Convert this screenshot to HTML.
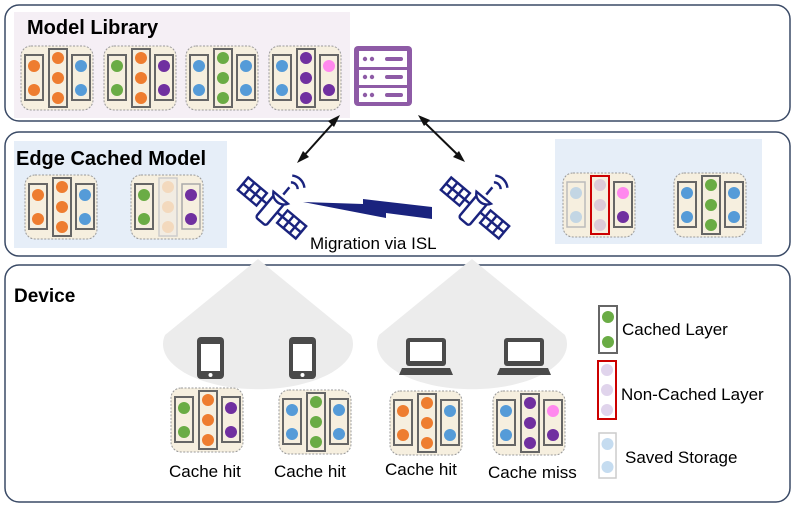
<!DOCTYPE html>
<html><head><meta charset="utf-8"><style>
html,body{margin:0;padding:0;background:#fff}
svg{display:block}
text{font-family:"Liberation Sans",Arial,sans-serif}
</style></head><body>
<svg width="798" height="508" viewBox="0 0 798 508" xmlns="http://www.w3.org/2000/svg">
<defs>
<g id="card"><rect x="0" y="0" width="72" height="64" rx="10" fill="#f6efdf" stroke="#9a9a9a" stroke-width="1" stroke-dasharray="2,1.5"/></g>
<g id="cols" fill="none" stroke="#666" stroke-width="2">
<rect x="4" y="9" width="18" height="45"/><rect x="28" y="3" width="18" height="58"/><rect x="51" y="9" width="18" height="45"/></g>
</defs>

<rect x="5" y="5" width="785" height="116" rx="14" fill="#fff" stroke="#3a4a66" stroke-width="1.5"/>
<rect x="14" y="12" width="336" height="106" fill="#f5eff5"/>
<rect x="5" y="132" width="785" height="124" rx="14" fill="#fff" stroke="#3a4a66" stroke-width="1.5"/>
<rect x="14" y="141" width="213" height="107" fill="#e6eef8"/>
<rect x="555" y="139" width="207" height="105" fill="#e6eef8"/>
<rect x="5" y="265" width="785" height="237" rx="14" fill="#fff" stroke="#3a4a66" stroke-width="1.5"/>

<text x="27" y="34" font-size="20" font-weight="bold">Model Library</text>
<text x="16" y="165" font-size="20" font-weight="bold">Edge Cached Model</text>
<text x="14" y="302" font-size="19" font-weight="bold">Device</text>

<!-- spotlights -->
<path d="M258,259 L165,335 A95,45 0 1 0 351,335 Z" fill="#ececec"/>
<path d="M472,259 L379,335 A95,45 0 1 0 565,335 Z" fill="#ececec"/>

<!-- library cards -->
<g transform="translate(21,46)"><use href="#card"/><use href="#cols"/>
<circle cx="13" cy="20" r="6" fill="#ee7d30"/><circle cx="13" cy="44" r="6" fill="#ee7d30"/>
<circle cx="37" cy="12" r="6" fill="#ee7d30"/><circle cx="37" cy="32" r="6" fill="#ee7d30"/><circle cx="37" cy="52" r="6" fill="#ee7d30"/>
<circle cx="60" cy="20" r="6" fill="#559bd8"/><circle cx="60" cy="44" r="6" fill="#559bd8"/></g>
<g transform="translate(104,46)"><use href="#card"/><use href="#cols"/>
<circle cx="13" cy="20" r="6" fill="#6aac45"/><circle cx="13" cy="44" r="6" fill="#6aac45"/>
<circle cx="37" cy="12" r="6" fill="#ee7d30"/><circle cx="37" cy="32" r="6" fill="#ee7d30"/><circle cx="37" cy="52" r="6" fill="#ee7d30"/>
<circle cx="60" cy="20" r="6" fill="#7030a0"/><circle cx="60" cy="44" r="6" fill="#7030a0"/></g>
<g transform="translate(186,46)"><use href="#card"/><use href="#cols"/>
<circle cx="13" cy="20" r="6" fill="#559bd8"/><circle cx="13" cy="44" r="6" fill="#559bd8"/>
<circle cx="37" cy="12" r="6" fill="#6aac45"/><circle cx="37" cy="32" r="6" fill="#6aac45"/><circle cx="37" cy="52" r="6" fill="#6aac45"/>
<circle cx="60" cy="20" r="6" fill="#559bd8"/><circle cx="60" cy="44" r="6" fill="#559bd8"/></g>
<g transform="translate(269,46)"><use href="#card"/><use href="#cols"/>
<circle cx="13" cy="20" r="6" fill="#559bd8"/><circle cx="13" cy="44" r="6" fill="#559bd8"/>
<circle cx="37" cy="12" r="6" fill="#7030a0"/><circle cx="37" cy="32" r="6" fill="#7030a0"/><circle cx="37" cy="52" r="6" fill="#7030a0"/>
<circle cx="60" cy="20" r="6" fill="#ff88ee"/><circle cx="60" cy="44" r="6" fill="#7030a0"/></g>

<!-- server -->
<rect x="354" y="46" width="58" height="60" rx="4" fill="#8e5ba6"/>
<rect x="359" y="51" width="48" height="16" fill="#fff"/><rect x="359" y="70" width="48" height="15" fill="#fff"/><rect x="359" y="88" width="48" height="14" fill="#fff"/>
<g fill="#8e5ba6"><circle cx="365" cy="59" r="2.2"/><circle cx="372" cy="59" r="2.2"/><rect x="385" y="57" width="18" height="4" rx="2"/>
<circle cx="365" cy="77" r="2.2"/><circle cx="372" cy="77" r="2.2"/><rect x="385" y="75" width="18" height="4" rx="2"/>
<circle cx="365" cy="95" r="2.2"/><circle cx="372" cy="95" r="2.2"/><rect x="385" y="93" width="18" height="4" rx="2"/></g>

<!-- arrows -->
<g stroke="#111" stroke-width="2" fill="#111">
<line x1="336" y1="120" x2="301" y2="159"/><line x1="422" y1="120" x2="461" y2="158"/></g>
<polygon points="340,115 334,127 328,121" fill="#111"/>
<polygon points="297,163 303,151 309,157" fill="#111"/>
<polygon points="418,115 430,120 424,126" fill="#111"/>
<polygon points="465,162 453,157 459,151" fill="#111"/>

<!-- edge cards -->
<g transform="translate(25,175)"><use href="#card"/><use href="#cols"/>
<circle cx="13" cy="20" r="6" fill="#ee7d30"/><circle cx="13" cy="44" r="6" fill="#ee7d30"/>
<circle cx="37" cy="12" r="6" fill="#ee7d30"/><circle cx="37" cy="32" r="6" fill="#ee7d30"/><circle cx="37" cy="52" r="6" fill="#ee7d30"/>
<circle cx="60" cy="20" r="6" fill="#559bd8"/><circle cx="60" cy="44" r="6" fill="#559bd8"/></g>
<g transform="translate(131,175)"><use href="#card"/>
<rect x="4" y="9" width="18" height="45" fill="none" stroke="#666" stroke-width="2"/>
<rect x="28" y="3" width="18" height="58" fill="#f2ece2" stroke="#ccc" stroke-width="1.5"/>
<rect x="51" y="9" width="18" height="45" fill="none" stroke="#aaa" stroke-width="1.5"/>
<circle cx="13" cy="20" r="6" fill="#6aac45"/><circle cx="13" cy="44" r="6" fill="#6aac45"/>
<circle cx="37" cy="12" r="6" fill="#f3d9bd"/><circle cx="37" cy="32" r="6" fill="#f3d9bd"/><circle cx="37" cy="52" r="6" fill="#f3d9bd"/>
<circle cx="60" cy="20" r="6" fill="#7030a0"/><circle cx="60" cy="44" r="6" fill="#7030a0"/></g>
<g transform="translate(563,173)"><use href="#card"/>
<rect x="4" y="9" width="18" height="45" fill="none" stroke="#bbb" stroke-width="1.5"/>
<rect x="28" y="3" width="18" height="58" fill="none" stroke="#c00" stroke-width="2"/>
<rect x="51" y="9" width="18" height="45" fill="none" stroke="#666" stroke-width="2"/>
<circle cx="13" cy="20" r="6" fill="#c3d6e4"/><circle cx="13" cy="44" r="6" fill="#c3d6e4"/>
<circle cx="37" cy="12" r="6" fill="#dccbd8"/><circle cx="37" cy="32" r="6" fill="#dccbd8"/><circle cx="37" cy="52" r="6" fill="#dccbd8"/>
<circle cx="60" cy="20" r="6" fill="#ff88ee"/><circle cx="60" cy="44" r="6" fill="#7030a0"/></g>
<g transform="translate(674,173)"><use href="#card"/><use href="#cols"/>
<circle cx="13" cy="20" r="6" fill="#559bd8"/><circle cx="13" cy="44" r="6" fill="#559bd8"/>
<circle cx="37" cy="12" r="6" fill="#6aac45"/><circle cx="37" cy="32" r="6" fill="#6aac45"/><circle cx="37" cy="52" r="6" fill="#6aac45"/>
<circle cx="60" cy="20" r="6" fill="#559bd8"/><circle cx="60" cy="44" r="6" fill="#559bd8"/></g>

<!-- satellites -->
<g id="sat" transform="translate(272,208) scale(1.35)" fill="none" stroke="#1a237e" stroke-width="1.8">
<g transform="rotate(40)">
<rect x="-5" y="-9" width="10" height="22" rx="2" fill="#fff"/>
<rect x="-28" y="-6" width="18" height="12" fill="#fff"/><line x1="-22" y1="-6" x2="-22" y2="6"/><line x1="-16" y1="-6" x2="-16" y2="6"/><line x1="-28" y1="0" x2="-10" y2="0"/>
<rect x="10" y="-6" width="18" height="12" fill="#fff"/><line x1="16" y1="-6" x2="16" y2="6"/><line x1="22" y1="-6" x2="22" y2="6"/><line x1="10" y1="0" x2="28" y2="0"/>
<line x1="-10" y1="0" x2="-5" y2="0"/><line x1="5" y1="0" x2="10" y2="0"/>
<path d="M-7,-10 A8,8 0 0 0 7,-10 Z" fill="#fff"/><line x1="0" y1="-13" x2="0" y2="-20"/>
</g>
<path d="M14,-19 A5,5 0 0 1 19,-14 M15,-24 A10,10 0 0 1 24,-15"/>
</g>
<use href="#sat" transform="translate(203,0)"/>
<polygon points="303,202 363,204 363,199 432,207 432,219 386,213 386,218" fill="#1a237e"/>
<text x="310" y="249" font-size="17">Migration via ISL</text>

<!-- devices -->
<g fill="#4a4a4a">
<rect x="197" y="337" width="27" height="42" rx="4"/><rect x="201" y="344" width="19" height="27" fill="#fff"/><circle cx="210.5" cy="375" r="2" fill="#fff"/>
<rect x="289" y="337" width="27" height="42" rx="4"/><rect x="293" y="344" width="19" height="27" fill="#fff"/><circle cx="302.5" cy="375" r="2" fill="#fff"/>
<rect x="406" y="338" width="40" height="28" rx="3"/><rect x="410" y="342" width="32" height="19" fill="#fff"/><path d="M402,368 H450 L453,375 H399 Z"/>
<rect x="504" y="338" width="40" height="28" rx="3"/><rect x="508" y="342" width="32" height="19" fill="#fff"/><path d="M500,368 H548 L551,375 H497 Z"/>
</g>

<!-- device cards -->
<g transform="translate(171,388)"><use href="#card"/><use href="#cols"/>
<circle cx="13" cy="20" r="6" fill="#6aac45"/><circle cx="13" cy="44" r="6" fill="#6aac45"/>
<circle cx="37" cy="12" r="6" fill="#ee7d30"/><circle cx="37" cy="32" r="6" fill="#ee7d30"/><circle cx="37" cy="52" r="6" fill="#ee7d30"/>
<circle cx="60" cy="20" r="6" fill="#7030a0"/><circle cx="60" cy="44" r="6" fill="#7030a0"/></g>
<g transform="translate(279,390)"><use href="#card"/><use href="#cols"/>
<circle cx="13" cy="20" r="6" fill="#559bd8"/><circle cx="13" cy="44" r="6" fill="#559bd8"/>
<circle cx="37" cy="12" r="6" fill="#6aac45"/><circle cx="37" cy="32" r="6" fill="#6aac45"/><circle cx="37" cy="52" r="6" fill="#6aac45"/>
<circle cx="60" cy="20" r="6" fill="#559bd8"/><circle cx="60" cy="44" r="6" fill="#559bd8"/></g>
<g transform="translate(390,391)"><use href="#card"/><use href="#cols"/>
<circle cx="13" cy="20" r="6" fill="#ee7d30"/><circle cx="13" cy="44" r="6" fill="#ee7d30"/>
<circle cx="37" cy="12" r="6" fill="#ee7d30"/><circle cx="37" cy="32" r="6" fill="#ee7d30"/><circle cx="37" cy="52" r="6" fill="#ee7d30"/>
<circle cx="60" cy="20" r="6" fill="#559bd8"/><circle cx="60" cy="44" r="6" fill="#559bd8"/></g>
<g transform="translate(493,391)"><use href="#card"/><use href="#cols"/>
<circle cx="13" cy="20" r="6" fill="#559bd8"/><circle cx="13" cy="44" r="6" fill="#559bd8"/>
<circle cx="37" cy="12" r="6" fill="#7030a0"/><circle cx="37" cy="32" r="6" fill="#7030a0"/><circle cx="37" cy="52" r="6" fill="#7030a0"/>
<circle cx="60" cy="20" r="6" fill="#ff88ee"/><circle cx="60" cy="44" r="6" fill="#7030a0"/></g>

<g font-size="17">
<text x="169" y="477">Cache hit</text><text x="274" y="477">Cache hit</text>
<text x="385" y="475">Cache hit</text><text x="488" y="478">Cache miss</text>
</g>

<!-- legend -->
<rect x="599" y="306" width="18" height="47" fill="#fff" stroke="#666" stroke-width="2"/>
<circle cx="608" cy="317" r="6" fill="#6aac45"/><circle cx="608" cy="342" r="6" fill="#6aac45"/>
<rect x="598" y="361" width="18" height="58" fill="#fff" stroke="#c00" stroke-width="2"/>
<circle cx="607" cy="370" r="6" fill="#e0d4ec"/><circle cx="607" cy="390" r="6" fill="#e0d4ec"/><circle cx="607" cy="410" r="6" fill="#e0d4ec"/>
<rect x="599" y="433" width="17" height="45" fill="#fff" stroke="#ccc" stroke-width="1.5"/>
<circle cx="607.5" cy="444" r="6" fill="#c5dcf0"/><circle cx="607.5" cy="467" r="6" fill="#c5dcf0"/>
<g font-size="17">
<text x="622" y="335">Cached Layer</text><text x="621" y="400">Non-Cached Layer</text><text x="625" y="463">Saved Storage</text>
</g>
</svg>
</body></html>
